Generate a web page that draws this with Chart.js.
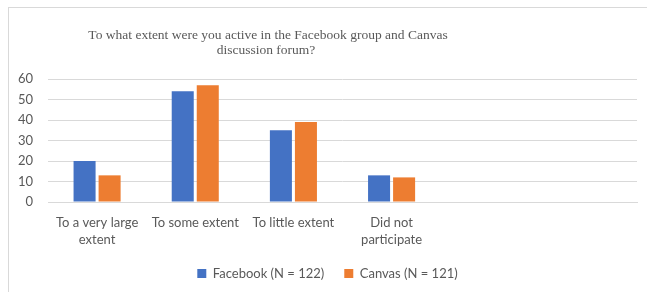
<!DOCTYPE html>
<html>
<head>
<meta charset="utf-8">
<script src="https://cdn.jsdelivr.net/npm/chart.js@4"></script>
<style>
  html, body { margin: 0; padding: 0; background: #fff; overflow: hidden; }
  #wrap { position: relative; width: 647px; height: 292px; }
  #frame { position: absolute; left: 8px; top: 7px; width: 700px; height: 400px;
           border-top: 1px solid #d9d9d9; border-left: 1px solid #d9d9d9; }
  canvas { position: absolute; left: 0; top: 0; }
</style>
</head>
<body>
<div id="wrap">
  <div id="frame"></div>
  <canvas id="myChart" width="647" height="292"></canvas>
</div>
<script>
// categories (last two slots are empty on the axis)
var categories = [['To a very large', 'extent'], 'To some extent', 'To little extent', ['Did not', 'participate'], '', ''];
var facebook = [20, 54, 35, 13];
var canvasForum = [13, 57, 39, 12];
var yTicks = [0, 10, 20, 30, 40, 50, 60];
var titleLines = ['To what extent were you active in the Facebook group and Canvas', 'discussion forum?'];

// draws the two-line title slightly left of centre, like the original
var titlePlugin = {
  id: 'offsetTitle',
  afterDraw: function(chart) {
    var c = chart.ctx;
    c.save();
    c.font = '13.5px "Liberation Serif", "Times New Roman", serif';
    c.fillStyle = '#595959';
    c.textAlign = 'center';
    c.textBaseline = 'middle';
    c.fillText(titleLines[0], 268, 35);
    c.fillText(titleLines[1], 266, 50);
    c.restore();
  }
};

var ctx = document.getElementById('myChart').getContext('2d');
var myChart = new Chart(ctx, {
    type: 'bar',
    data: {
        labels: categories,
        datasets: [{
            label: 'Facebook (N = 122)',
            data: facebook,
            backgroundColor: '#4472C4',
            barPercentage: 0.88,
            categoryPercentage: 0.51
        }, {
            label: 'Canvas (N = 121)',
            data: canvasForum,
            backgroundColor: '#ED7D31',
            barPercentage: 0.88,
            categoryPercentage: 0.51
        }]
    },
    options: {
        responsive: false,
        animation: false,
        layout: { padding: { left: 18, right: 10, top: 79, bottom: 2 } },
        plugins: {
            title: { display: false },
            tooltip: { enabled: false },
            legend: {
                position: 'bottom',
                labels: {
                    color: '#595959',
                    font: { family: 'Lato, "Open Sans", sans-serif', size: 13 },
                    boxWidth: 9,
                    boxHeight: 9,
                    padding: 20
                }
            }
        },
        scales: {
            x: {
                afterFit: function(axis) { axis.height = 45; },
                grid: { display: false, drawTicks: false },
                border: { display: true, color: '#d9d9d9' },
                ticks: {
                    color: '#595959',
                    font: { family: 'Lato, "Open Sans", sans-serif', size: 13, lineHeight: 1.3 },
                    padding: 12,
                    maxRotation: 0,
                    autoSkip: false
                }
            },
            y: {
                min: 0,
                max: 60,
                afterBuildTicks: function(axis) {
                    axis.ticks = yTicks.map(function(v) { return { value: v }; });
                },
                afterFit: function(axis) { axis.width = 30; },
                grid: { color: '#d9d9d9', drawTicks: false },
                border: { display: false },
                ticks: {
                    color: '#595959',
                    font: { family: 'Lato, "Open Sans", sans-serif', size: 13 },
                    padding: 15,
                    autoSkip: false
                }
            }
        }
    },
    plugins: [titlePlugin]
});
</script>
</body>
</html>
